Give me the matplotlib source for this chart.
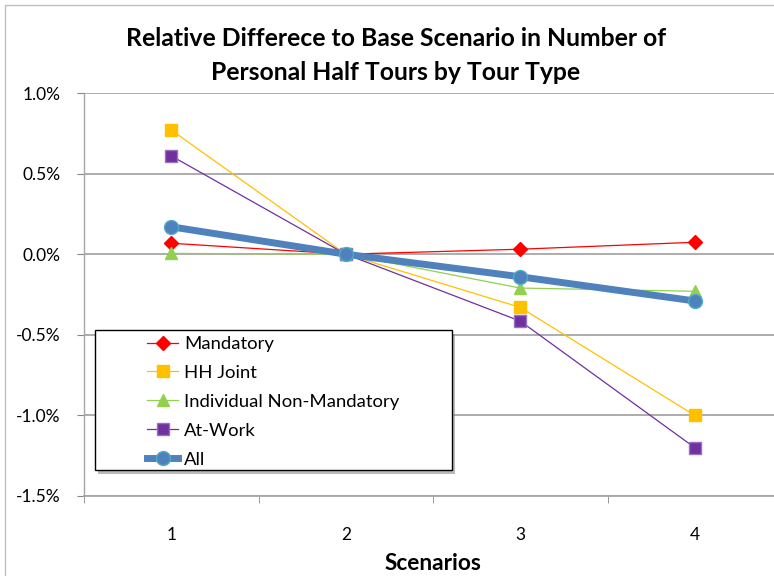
import matplotlib
matplotlib.use("Agg")
import matplotlib.pyplot as plt
from matplotlib.patches import Rectangle
from matplotlib.ticker import FuncFormatter, FixedLocator

plt.rcParams['font.family'] = ['Lato', 'DejaVu Sans']

scenarios = [1, 2, 3, 4]
mandatory = [0.068, 0.0, 0.031, 0.074]
hh_joint = [0.77, 0.0, -0.33, -1.0]
indiv_non_mand = [0.005, 0.0, -0.21, -0.23]
at_work = [0.61, 0.0, -0.415, -1.2]
all_tours = [0.17, 0.0, -0.14, -0.29]

W, H = 774, 576
fig = plt.figure(figsize=(W / 100, H / 100), dpi=100)

# chart frame (runs off the right/bottom edge)
fig.patches.append(Rectangle((5 / W, -0.1), 1.2, 1 - 5 / H + 0.1, transform=fig.transFigure,
                             fill=False, edgecolor='#BFBFBF', linewidth=1))

ax = fig.add_axes([84 / W, 1 - 496 / H, 698 / W, 403 / H])

ax.plot(scenarios, mandatory, color='#FF0000', lw=0.9, marker='D', ms=7,
        mfc='#FF0000', mec='#FF0000', label='Mandatory')
ax.plot(scenarios, hh_joint, color='#FFC000', lw=0.9, marker='s', ms=9,
        mfc='#FFC000', mec='#FFC000', label='HH Joint')
ax.plot(scenarios, indiv_non_mand, color='#92D050', lw=0.9, marker='^', ms=9,
        mfc='#92D050', mec='#92D050', label='Individual Non-Mandatory')
ax.plot(scenarios, at_work, color='#7030A0', lw=0.9, marker='s', ms=8,
        mfc='#7030A0', mec='#9A70C0', label='At-Work')
ax.plot(scenarios, all_tours, color='#4F81BD', lw=5, marker='o', ms=10,
        mfc='#4F81BD', mec='#4BACC6', mew=1, label='All')

ax.set_xlim(0.5, 4.5)
ax.set_ylim(-1.5, 1.0)
ax.set_yticks([-1.5, -1.0, -0.5, 0.0, 0.5, 1.0])
ax.yaxis.set_major_formatter(FuncFormatter(lambda v, p: f"{v:.1f}%"))
ax.set_xticks(scenarios)
ax.xaxis.set_minor_locator(FixedLocator([0.5, 1.5, 2.5, 3.5, 4.5]))
ax.tick_params(axis='x', which='major', length=0, pad=22, labelsize=12.5)
ax.tick_params(axis='x', which='minor', length=5, color='#868686', direction='out')
ax.tick_params(axis='y', length=5, color='#868686', direction='out', pad=12, labelsize=12.5)
ax.grid(axis='y', color='#A6A6A6', lw=1.3)
ax.set_axisbelow(True)
for side in ('top', 'right'):
    ax.spines[side].set_visible(False)
ax.spines['left'].set_color('#A6A6A6')
ax.spines['bottom'].set_color('#A6A6A6')
ax.spines['left'].set_linewidth(1.0)
ax.spines['bottom'].set_linewidth(1.3)

fig.text(433 / W, 1 - 563 / H, 'Scenarios', ha='center', va='center',
         fontsize=16.3, fontweight='bold')

fig.text(396 / W, 1 - 38 / H, 'Relative Differece to Base Scenario in Number of',
         ha='center', va='center', fontsize=17.8, fontweight='bold')
fig.text(396 / W, 1 - 72 / H, 'Personal Half Tours by Tour Type',
         ha='center', va='center', fontsize=17.8, fontweight='bold')

# legend box with drop shadow, entries placed inside it
shadow = Rectangle((98 / W, 1 - 474 / H), 357 / W, 140 / H, transform=fig.transFigure,
                   facecolor='#8C8C8C', edgecolor='none', alpha=0.6, zorder=4)
box = Rectangle((95 / W, 1 - 470 / H), 357 / W, 140 / H, transform=fig.transFigure,
                facecolor='white', edgecolor='black', linewidth=1.0, zorder=5)
fig.patches.extend([shadow, box])

leg = fig.legend(loc='upper left', bbox_to_anchor=(147 / W, 1 - 336 / H),
                 fontsize=13.3, frameon=False, borderpad=0, labelspacing=0.7,
                 handlelength=1.7, handletextpad=0.3, borderaxespad=0)
leg.set_zorder(6)

fig.savefig('out.png', dpi=100)
